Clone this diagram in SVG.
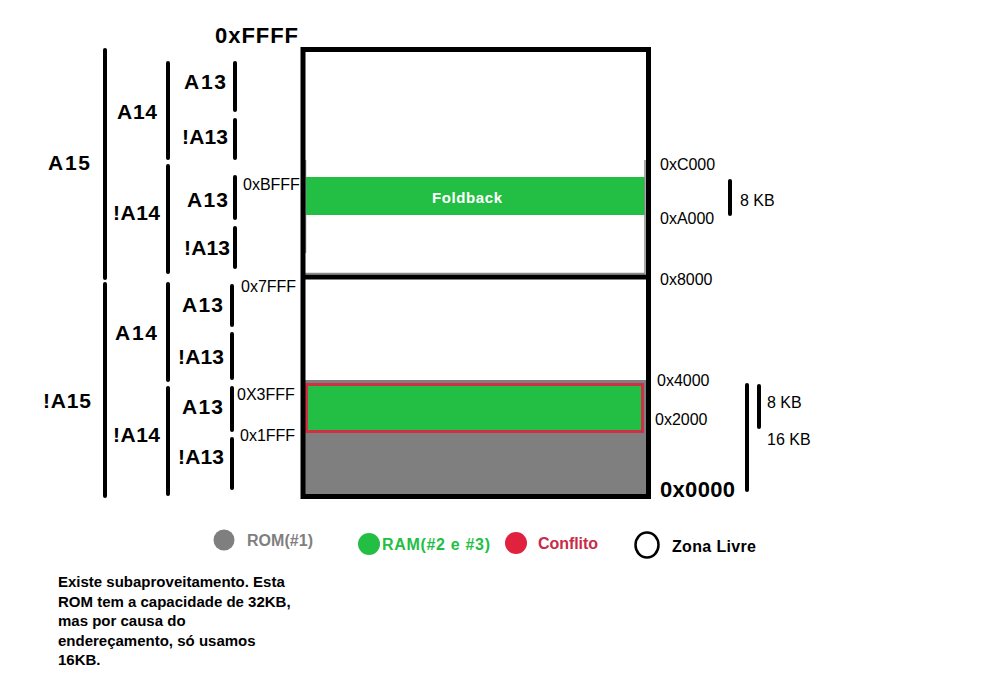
<svg xmlns="http://www.w3.org/2000/svg" width="988" height="680" viewBox="0 0 988 680">
<style>
text{font-family:"Liberation Sans",Arial,sans-serif;fill:#000}
.big{font-size:21px;font-weight:bold}
.hex{font-size:16px}
.leg{font-size:16px;font-weight:bold}
.note{font-size:15px;font-weight:bold}
.bar{stroke:#000;stroke-width:4;stroke-linecap:round;fill:none}
.faint{stroke:#8a8a8a;stroke-width:1.5;fill:none}
</style>
<rect width="988" height="680" fill="#fff"/>

<g id="memory-map">
  <rect x="305" y="177" width="340" height="38" fill="#22bf44"/>
  <text x="467" y="203" text-anchor="middle" style="font-size:15px;font-weight:bold;fill:#fff" textLength="70">Foldback</text>
  <line class="faint" x1="305.5" y1="160" x2="305.5" y2="253"/>
  <line class="faint" x1="645" y1="160" x2="645" y2="274"/>
  <line class="faint" x1="305" y1="273.5" x2="645" y2="273.5"/>
  <rect x="305" y="380" width="341" height="115" fill="#7f7f7f"/>
  <rect x="306.5" y="384.5" width="336" height="47" fill="#22bf44" stroke="#cf3048" stroke-width="3"/>
  <rect x="303" y="49.5" width="345.5" height="447" fill="none" stroke="#000" stroke-width="5"/>
  <line x1="303" y1="277" x2="648.5" y2="277" stroke="#000" stroke-width="5"/>
</g>

<g id="bars">
  <line class="bar" x1="105" y1="50" x2="105" y2="278"/>
  <line class="bar" x1="105" y1="284" x2="105" y2="496"/>
  <line class="bar" x1="168" y1="63" x2="168" y2="158"/>
  <line class="bar" x1="168" y1="166" x2="168" y2="272"/>
  <line class="bar" x1="168" y1="284" x2="168" y2="380"/>
  <line class="bar" x1="168" y1="388" x2="168" y2="494"/>
  <line class="bar" x1="235" y1="63" x2="235" y2="110"/>
  <line class="bar" x1="235" y1="120" x2="235" y2="158"/>
  <line class="bar" x1="235" y1="177" x2="235" y2="218"/>
  <line class="bar" x1="235" y1="228" x2="235" y2="267"/>
  <line class="bar" x1="232" y1="286" x2="232" y2="325"/>
  <line class="bar" x1="232" y1="334" x2="232" y2="378"/>
  <line class="bar" x1="232" y1="388" x2="232" y2="430"/>
  <line class="bar" x1="232" y1="439" x2="232" y2="488"/>
  <line class="bar" x1="730" y1="181" x2="730" y2="214"/>
  <line class="bar" x1="747" y1="385" x2="747" y2="490"/>
  <line class="bar" x1="759" y1="386" x2="759" y2="427"/>
</g>

<g id="labels-left">
  <text class="big" x="215" y="43" style="font-size:22px" textLength="83">0xFFFF</text>
  <text class="big" x="48" y="170" textLength="42">A15</text>
  <text class="big" x="43" y="408" textLength="48">!A15</text>
  <text class="big" x="117" y="119" textLength="40">A14</text>
  <text class="big" x="113" y="220" textLength="47">!A14</text>
  <text class="big" x="115" y="340" textLength="42">A14</text>
  <text class="big" x="113" y="442" textLength="47">!A14</text>
  <text class="big" x="184" y="89" textLength="42">A13</text>
  <text class="big" x="182" y="144" textLength="46">!A13</text>
  <text class="big" x="187" y="207" textLength="41">A13</text>
  <text class="big" x="184" y="255" textLength="46">!A13</text>
  <text class="big" x="182" y="312" textLength="41">A13</text>
  <text class="big" x="178" y="364" textLength="46">!A13</text>
  <text class="big" x="182" y="414" textLength="41">A13</text>
  <text class="big" x="178" y="464" textLength="46">!A13</text>
  <text class="hex" x="243" y="190">0xBFFF</text>
  <text class="hex" x="241" y="292">0x7FFF</text>
  <text class="hex" x="237" y="400">0X3FFF</text>
  <text class="hex" x="240" y="441">0x1FFF</text>
</g>

<g id="labels-right">
  <text class="hex" x="660" y="170">0xC000</text>
  <text class="hex" x="660" y="224">0xA000</text>
  <text class="hex" x="660" y="285">0x8000</text>
  <text class="hex" x="657" y="386">0x4000</text>
  <text class="hex" x="655" y="425">0x2000</text>
  <text class="big" x="660" y="497" style="font-size:22px" textLength="75">0x0000</text>
  <text class="hex" x="740" y="206">8 KB</text>
  <text class="hex" x="767" y="408">8 KB</text>
  <text class="hex" x="767" y="445">16 KB</text>
</g>

<g id="legend">
  <circle cx="224" cy="540" r="10.5" fill="#7f7f7f"/>
  <text class="leg" x="247" y="546" style="fill:#7f7f7f" textLength="66">ROM(#1)</text>
  <circle cx="369" cy="544" r="11" fill="#22bf44"/>
  <text class="leg" x="382" y="550" style="fill:#22bf44" textLength="108">RAM(#2 e #3)</text>
  <circle cx="516" cy="543" r="11" fill="#e0223f"/>
  <text class="leg" x="538" y="549" style="fill:#c92a48" textLength="60">Conflito</text>
  <ellipse cx="647" cy="545" rx="11.5" ry="12.5" fill="none" stroke="#000" stroke-width="2.5"/>
  <text class="leg" x="672" y="552" textLength="84">Zona Livre</text>
</g>

<g id="note">
  <text class="note" x="58" y="587">Existe subaproveitamento. Esta</text>
  <text class="note" x="58" y="607">ROM tem a capacidade de 32KB,</text>
  <text class="note" x="58" y="626">mas por causa do</text>
  <text class="note" x="58" y="646">endereçamento, só usamos</text>
  <text class="note" x="58" y="665">16KB.</text>
</g>
</svg>
